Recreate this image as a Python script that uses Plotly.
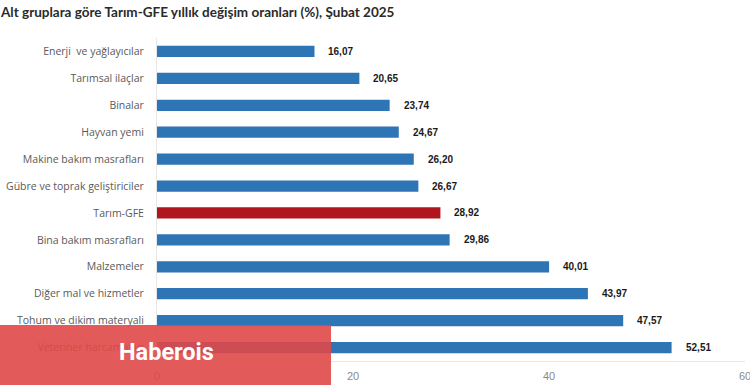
import plotly.graph_objects as go

categories = ["Enerji  ve yağlayıcılar", "Tarımsal ilaçlar", "Binalar", "Hayvan yemi",
              "Makine bakım masrafları", "Gübre ve toprak geliştiriciler", "Tarım-GFE",
              "Bina bakım masrafları", "Malzemeler", "Diğer mal ve hizmetler",
              "Tohum ve dikim materyali", "Veteriner harcamaları"]
values = [16.07, 20.65, 23.74, 24.67, 26.20, 26.67, 28.92, 29.86, 40.01, 43.97, 47.57, 52.51]
highlight = "Tarım-GFE"
x_ticks = [0, 20, 40, 60]

BLUE = "#2e75b6"
RED = "#b0161e"
colors = [RED if c == highlight else BLUE for c in categories]

L, R, T, B = 157, 5, 38, 24
PW, PH = 750 - L - R, 385 - T - B

fig = go.Figure()
fig.add_trace(go.Bar(
    x=values, y=categories, orientation="h",
    marker=dict(color=colors, line=dict(width=0)),
    width=0.42, hoverinfo="skip",
))

for c, v in zip(categories, values):
    fig.add_annotation(x=v, y=c, text="<b>" + f"{v:.2f}".replace(".", ",") + "</b>", showarrow=False,
                       xanchor="left", xshift=12,
                       font=dict(family="Liberation Sans, Arial", size=10, color="#1a1a1a"))

# title as annotation
fig.add_annotation(xref="paper", yref="paper", x=-L / PW, y=1 + (T - 12) / PH,
                   text="<b>Alt gruplara göre Tarım-GFE yıllık değişim oranları (%), Şubat 2025</b>",
                   showarrow=False, xanchor="left", yanchor="middle", xshift=-2,
                   font=dict(family="Lato", size=13.5, color="#2a2a2a"))

# watermark overlay
fig.add_shape(type="rect", xref="paper", yref="paper", x0=-L / PW, x1=(331 - L) / PW,
              y0=-B / PH, y1=(385 - B - 325) / PH, fillcolor="#e04848", opacity=0.9,
              line=dict(width=0), layer="above")
fig.add_annotation(xref="paper", yref="paper", x=(117 - L) / PW, y=(385 - B - 352) / PH,
                   text="<b>Haberois</b>", showarrow=False, xanchor="left", yanchor="middle",
                   font=dict(family="Roboto", size=23.5, color="white"))

fig.update_layout(
    width=750, height=385,
    margin=dict(l=L, r=R, t=T, b=B, autoexpand=False),
    paper_bgcolor="white", plot_bgcolor="white",
    showlegend=False,
    xaxis=dict(range=[0, 60], tickvals=x_ticks, showgrid=False, zeroline=False,
               showline=True, linecolor="#e6e6e6", linewidth=1, automargin=False,
               ticklabeloverflow="allow",
               tickfont=dict(family="Liberation Sans Narrow, Liberation Sans", size=11, color="#8a8a8a"),
               ticks="", ticklabelstandoff=5),
    yaxis=dict(categoryorder="array", categoryarray=categories, autorange="reversed",
               showgrid=False, zeroline=False, showline=True, linecolor="#e6e6e6", linewidth=1,
               ticks="", ticklabelstandoff=10, automargin=False,
               tickfont=dict(family="Open Sans", size=10.5, color="#5a5a5a")),
    font=dict(family="Open Sans"),
)

fig.write_html("out.html", config={"displayModeBar": False},
               post_script="document.body.style.margin='0px';")
